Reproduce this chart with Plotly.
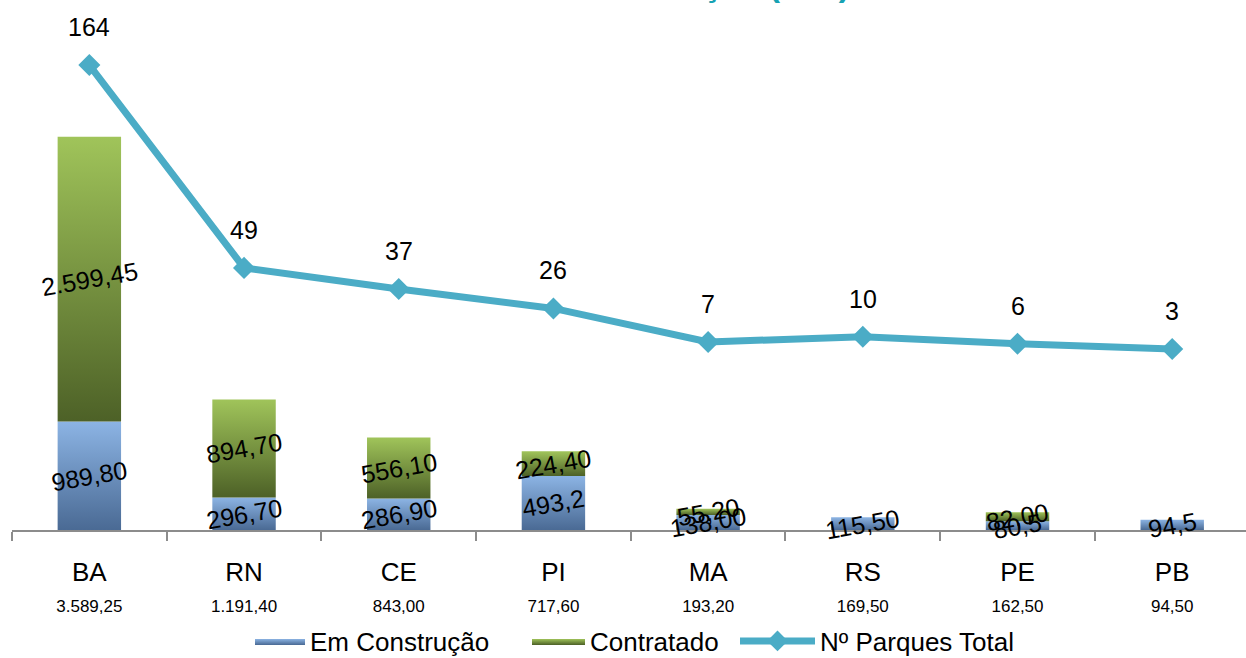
import plotly.graph_objects as go

categories = ["BA", "RN", "CE", "PI", "MA", "RS", "PE", "PB"]
totals_label = ["3.589,25", "1.191,40", "843,00", "717,60", "193,20", "169,50", "162,50", "94,50"]
em_construcao = [989.80, 296.70, 286.90, 493.2, 138.00, 115.50, 80.5, 94.5]
em_construcao_labels = ["989,80", "296,70", "286,90", "493,2", "138,00", "115,50", "80,5", "94,5"]
contratado = [2599.45, 894.70, 556.10, 224.40, 55.20, 0, 82.00, 0]
contratado_labels = ["2.599,45", "894,70", "556,10", "224,40", "55,20", "", "82,00", ""]
parques = [164, 49, 37, 26, 7, 10, 6, 3]

BAR_W = 0.41
FONT = "Liberation Sans, Arial, sans-serif"
BLUE_SCALE = [[0, "#4a6a94"], [1, "#8cb4e4"]]
GREEN_SCALE = [[0, "#4d6127"], [1, "#a0c45a"]]
LINE_COLOR = "#4bacc6"
PLOT_L, PLOT_W = 12, 1234

fig = go.Figure()


def add_segments(bases, values, name, scale, legend_color, legend_id):
    # legend-only entry
    fig.add_trace(go.Scatter(
        x=[None], y=[None], mode="lines", fill="toself",
        fillgradient=dict(type="vertical", colorscale=scale),
        line=dict(width=0, color=legend_color),
        name=name, legendgroup=name, showlegend=True, legend=legend_id,
        hoverinfo="skip",
    ))
    for i, (b, v) in enumerate(zip(bases, values)):
        if v <= 0:
            continue
        x0, x1 = i - BAR_W / 2, i + BAR_W / 2
        fig.add_trace(go.Scatter(
            x=[x0, x1, x1, x0, x0],
            y=[b, b, b + v, b + v, b],
            mode="lines", fill="toself",
            fillgradient=dict(type="vertical", colorscale=scale, start=b, stop=b + v),
            line=dict(width=0, color=legend_color),
            name=name, legendgroup=name, showlegend=False,
            hoverinfo="skip",
        ))


zeros = [0] * len(categories)
add_segments(zeros, em_construcao, "Em Construção", BLUE_SCALE, "#6d93c4", "legend")
add_segments(em_construcao, contratado, "Contratado", GREEN_SCALE, "#7a9a40", "legend2")

xs = list(range(len(categories)))
fig.add_trace(go.Scatter(
    x=xs, y=parques, yaxis="y2", mode="lines+markers",
    name="Nº Parques Total", legend="legend3",
    line=dict(color=LINE_COLOR, width=7),
    marker=dict(symbol="diamond", size=17, color=LINE_COLOR),
    hoverinfo="skip",
))

annotations = []
for i in xs:
    annotations.append(dict(
        x=i, y=parques[i], xref="x", yref="y2", text=str(parques[i]),
        showarrow=False, yshift=38, font=dict(family=FONT, size=25, color="black"),
    ))
    if em_construcao_labels[i]:
        annotations.append(dict(
            x=i, y=em_construcao[i] / 2, xref="x", yref="y", text=em_construcao_labels[i],
            showarrow=False, textangle=-10, font=dict(family=FONT, size=25, color="black"),
        ))
    if contratado_labels[i]:
        annotations.append(dict(
            x=i, y=em_construcao[i] + contratado[i] / 2, xref="x", yref="y",
            text=contratado_labels[i],
            showarrow=False, textangle=-10, font=dict(family=FONT, size=25, color="black"),
        ))

annotations.append(dict(
    x=(852 - PLOT_L) / PLOT_W, y=1, xref="paper", yref="paper", xanchor="right", yanchor="bottom",
    yshift=5, showarrow=False,
    text="<b>Potência em Construção (MW)</b>",
    font=dict(family=FONT, size=33, color="#17a2b3"),
))

ticktext = [f"<span style='font-size:26px'>{c}</span><br><span style='font-size:17px'>{t}</span>"
            for c, t in zip(categories, totals_label)]

legend_common = dict(orientation="h", xanchor="left", y=(530 - 641) / 520, yanchor="middle",
                     font=dict(family=FONT, size=26, color="black"), bgcolor="rgba(0,0,0,0)",
                     borderwidth=0)

fig.update_layout(
    width=1246, height=658,
    margin=dict(l=PLOT_L, r=0, t=10, b=128, autoexpand=False),
    paper_bgcolor="white", plot_bgcolor="white",
    font=dict(family=FONT, color="black"),
    xaxis=dict(
        range=[-0.5, 7.477], tickvals=xs, ticktext=ticktext, ticks="",
        tickfont=dict(family=FONT, size=24, color="black"),
        showgrid=False, zeroline=False, showline=True, linecolor="#8c8c8c", linewidth=1.5,
        ticklabelstandoff=20,
        minor=dict(tickvals=[k - 0.5 for k in range(len(categories) + 1)], ticks="outside",
                   ticklen=9, tickcolor="#8c8c8c", tickwidth=1.5, showgrid=False),
    ),
    yaxis=dict(range=[0, 4745], visible=False, showgrid=False, zeroline=False),
    yaxis2=dict(range=[-99.6, 195.2], overlaying="y", visible=False, showgrid=False, zeroline=False),
    legend=dict(legend_common, x=(250 - PLOT_L) / PLOT_W, itemwidth=50),
    legend2=dict(legend_common, x=(527 - PLOT_L) / PLOT_W, itemwidth=53),
    legend3=dict(legend_common, x=(735 - PLOT_L) / PLOT_W, itemwidth=75),
    annotations=annotations,
    showlegend=True,
)

fig.write_html("out.html", config={"displayModeBar": False},
               post_script="document.body.style.margin='0px';")
